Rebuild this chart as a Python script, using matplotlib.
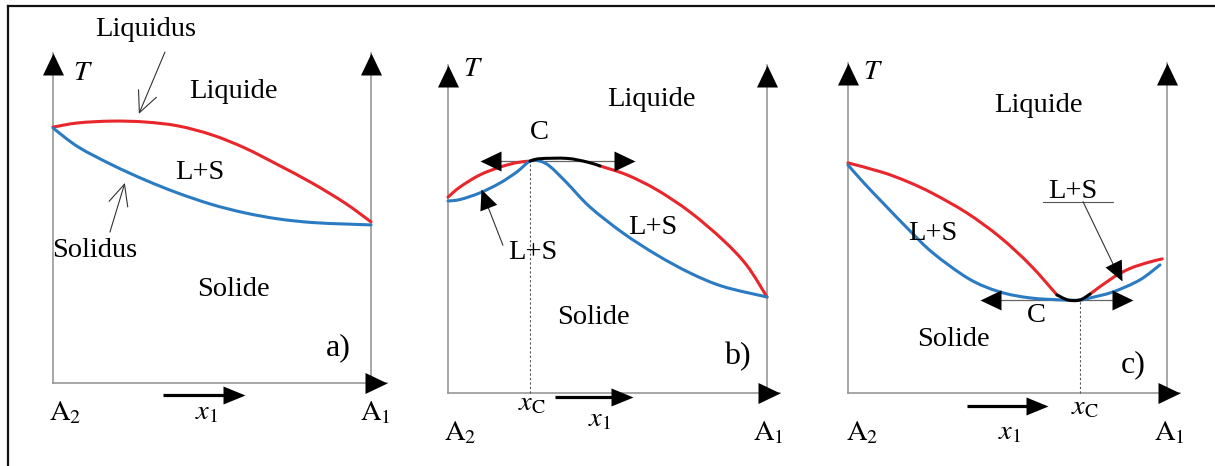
import math
import matplotlib
matplotlib.use("Agg")
import matplotlib.pyplot as plt
from matplotlib.lines import Line2D
from matplotlib.markers import MarkerStyle
from matplotlib.transforms import Affine2D
from matplotlib.path import Path
from matplotlib.patches import PathPatch

plt.rcParams['font.family'] = ['Liberation Serif', 'DejaVu Serif']
plt.rcParams['mathtext.fontset'] = 'stix'

## Curves: x = composition (A2 -> A1), T = temperature (arb.)
# panel a) : simple lens
a_liq_x = [0, 0.079, 0.186, 0.289, 0.393, 0.500, 0.604, 0.708, 0.814, 0.918, 1.0]
a_liq_T = [0.853, 0.867, 0.873, 0.870, 0.857, 0.827, 0.783, 0.727, 0.667, 0.600, 0.537]
a_sol_x = [0, 0.079, 0.186, 0.289, 0.393, 0.500, 0.604, 0.708, 0.814, 0.918, 1.0]
a_sol_T = [0.850, 0.787, 0.727, 0.677, 0.633, 0.595, 0.567, 0.547, 0.535, 0.530, 0.527]

# panel b) : congruent maximum at C
b_liq1_x = [0, 0.038, 0.100, 0.163, 0.216, 0.257]
b_liq1_T = [0.653, 0.687, 0.727, 0.753, 0.768, 0.773]
b_top_x = [0.257, 0.288, 0.373, 0.436, 0.476]
b_top_T = [0.773, 0.781, 0.782, 0.770, 0.757]
b_liq2_x = [0.476, 0.561, 0.655, 0.759, 0.862, 0.937, 1.0]
b_liq2_T = [0.757, 0.727, 0.677, 0.603, 0.510, 0.425, 0.320]
b_sol_x = [0, 0.038, 0.100, 0.163, 0.216, 0.257, 0.288, 0.320, 0.373, 0.445, 0.549, 0.655, 0.759, 0.862, 1.0]
b_sol_T = [0.640, 0.645, 0.667, 0.700, 0.737, 0.773, 0.773, 0.755, 0.700, 0.620, 0.533, 0.460, 0.400, 0.355, 0.320]

# panel c) : congruent minimum at C
c_liq1_x = [0, 0.110, 0.19, 0.266, 0.373, 0.476, 0.571, 0.655]
c_liq1_T = [0.767, 0.735, 0.703, 0.665, 0.600, 0.520, 0.427, 0.327]
c_bot_x = [0.655, 0.69, 0.727, 0.759]
c_bot_T = [0.327, 0.310, 0.310, 0.330]
c_liq2_x = [0.759, 0.831, 0.884, 0.94, 0.985]
c_liq2_T = [0.330, 0.385, 0.415, 0.435, 0.447]
c_sol_x = [0, 0.05, 0.110, 0.19, 0.266, 0.38, 0.476, 0.571, 0.674, 0.727, 0.759, 0.831, 0.915, 0.978]
c_sol_T = [0.760, 0.700, 0.633, 0.545, 0.467, 0.380, 0.337, 0.317, 0.310, 0.310, 0.317, 0.337, 0.377, 0.427]

xC_b, TC_b = 0.257, 0.775
xC_c, TC_c = 0.727, 0.310

RED = '#e8262b'
BLUE = '#2b7bc3'
GREY = '#8f8f8f'
FS = 20.5

W, H = 1215, 466
fig = plt.figure(figsize=(W / 100, H / 100), dpi=100)


def panel(x0, x1, yb):
    # full-figure axes: composition 0..1 spans x0..x1 px, T=1 is 300 px above baseline yb
    ax = fig.add_axes([0, 0, 1, 1])
    w = x1 - x0
    ax.set_xlim(-x0 / w, (W - x0) / w)
    ax.set_ylim((yb - H) / 300, yb / 300)
    ax.axis('off')
    ax.patch.set_alpha(0)
    return ax


def curve(ax, xs, ys, color):
    # smooth bezier path passing through the read points (Catmull-Rom handles)
    pts = list(zip(xs, ys))
    verts = [pts[0]]
    codes = [Path.MOVETO]
    n = len(pts)
    for i in range(n - 1):
        p0 = pts[max(i - 1, 0)]
        p1 = pts[i]
        p2 = pts[i + 1]
        p3 = pts[min(i + 2, n - 1)]
        c1 = (p1[0] + (p2[0] - p0[0]) / 6, p1[1] + (p2[1] - p0[1]) / 6)
        c2 = (p2[0] - (p3[0] - p1[0]) / 6, p2[1] - (p3[1] - p1[1]) / 6)
        verts += [c1, c2, p2]
        codes += [Path.CURVE4] * 3
    ax.add_patch(PathPatch(Path(verts, codes), fill=False, edgecolor=color,
                           lw=2.2, capstyle='round', zorder=3))


def head(ax, tip, frm, length=22, width=18, color='black'):
    p1 = ax.transData.transform(frm)
    p2 = ax.transData.transform(tip)
    ang = math.degrees(math.atan2(p2[1] - p1[1], p2[0] - p1[0]))
    hw = width / 2 / length
    m = MarkerStyle([(0, 0), (-hw, -1), (hw, -1), (0, 0)],
                    transform=Affine2D().rotate_deg(ang - 90))
    ax.plot([tip[0]], [tip[1]], marker=m, ms=2 * length * 0.72,
            color=color, mew=0, zorder=6)


def frame_axes(ax, top, right_tip, T_label):
    ax.plot([0, 0], [0, top], color=GREY, lw=1.1)
    ax.plot([1, 1], [0, top], color=GREY, lw=1.1)
    ax.plot([0, right_tip], [0, 0], color=GREY, lw=1.1)
    head(ax, (0, top), (0, 0), width=21)
    head(ax, (1, top), (1, 0), width=21)
    head(ax, (right_tip, 0), (0, 0), width=21)
    ax.text(T_label[0], T_label[1], '$T$', fontsize=FS, ha='center', va='center')


def x1_arrow(ax, xa, xb, y):
    ax.plot([xa, xb - 0.05], [y, y], color='black', lw=2.3, solid_capstyle='butt')
    head(ax, (xb, y), (xa, y))


def txt(ax, x, y, s, size=FS):
    ax.text(x, y, s, fontsize=size, ha='center', va='center')


OPEN = dict(arrowstyle='->,head_length=0.75,head_width=0.35', lw=0.8,
            color='#333', mutation_scale=20, shrinkA=0, shrinkB=0)

# ---------------- panel a ----------------
ax = panel(53, 371, 383)
frame_axes(ax, 1.10, 1.05, (0.095, 1.032))
curve(ax, a_liq_x, a_liq_T, RED)
curve(ax, a_sol_x, a_sol_T, BLUE)
txt(ax, 0.29, 1.177, 'Liquidus')
ax.annotate('', xy=(0.270, 0.897), xytext=(0.352, 1.103), arrowprops=OPEN)
txt(ax, 0.566, 0.970, 'Liquide')
txt(ax, 0.462, 0.703, 'L+S')
txt(ax, 0.132, 0.443, 'Solidus')
ax.annotate('', xy=(0.226, 0.667), xytext=(0.179, 0.503), arrowprops=OPEN)
txt(ax, 0.566, 0.310, 'Solide')
txt(ax, 0.896, 0.117, 'a)', size=23)
txt(ax, 0.038, -0.10, r'$\mathrm{A}_2$')
txt(ax, 0.484, -0.10, r'$x_1$')
txt(ax, 1.013, -0.10, r'$\mathrm{A}_1$')
x1_arrow(ax, 0.346, 0.604, -0.04)

# ---------------- panel b ----------------
ax = panel(448, 767, 393)
frame_axes(ax, 1.093, 1.041, (0.078, 1.077))
curve(ax, b_liq1_x, b_liq1_T, RED)
curve(ax, b_liq2_x, b_liq2_T, RED)
curve(ax, b_sol_x, b_sol_T, BLUE)
curve(ax, b_top_x, b_top_T, 'black')
ax.plot([xC_b, xC_b], [0, TC_b], color='#555', lw=0.8, ls=(0, (2, 2)))
ax.plot([0.13, 0.56], [TC_b, TC_b], color='#666', lw=0.9)
head(ax, (0.100, TC_b), (0.3, TC_b), length=21, width=20)
head(ax, (0.586, TC_b), (0.3, TC_b), length=21, width=20)
txt(ax, 0.288, 0.867, 'C')
txt(ax, 0.639, 0.977, 'Liquide')
txt(ax, 0.643, 0.553, 'L+S')
txt(ax, 0.266, 0.467, 'L+S')
ax.plot([0.172, 0.12], [0.493, 0.635], color='#333', lw=0.8)
head(ax, (0.103, 0.680), (0.172, 0.493), length=20, width=18)
txt(ax, 0.455, 0.253, 'Solide')
txt(ax, 0.906, 0.120, 'b)', size=23)
txt(ax, 0.038, -0.133, r'$\mathrm{A}_2$')
txt(ax, 0.476, -0.09, r'$x_1$')
txt(ax, 1.003, -0.133, r'$\mathrm{A}_1$')
txt(ax, 0.263, -0.037, r'$x_\mathrm{C}$')
x1_arrow(ax, 0.335, 0.580, -0.013)

# ---------------- panel c ----------------
ax = panel(848, 1167, 393)
frame_axes(ax, 1.10, 1.041, (0.078, 1.067))
curve(ax, c_liq1_x, c_liq1_T, RED)
curve(ax, c_liq2_x, c_liq2_T, RED)
curve(ax, c_sol_x, c_sol_T, BLUE)
curve(ax, c_bot_x, c_bot_T, 'black')
ax.plot([xC_c, xC_c], [0, TC_c], color='#555', lw=0.8, ls=(0, (2, 2)))
ax.plot([0.44, 0.86], [TC_c, TC_c], color='#666', lw=0.9)
head(ax, (0.414, TC_c), (0.7, TC_c), length=21, width=20)
head(ax, (0.893, TC_c), (0.7, TC_c), length=21, width=20)
txt(ax, 0.592, 0.260, 'C')
txt(ax, 0.596, 0.960, 'Liquide')
txt(ax, 0.266, 0.533, 'L+S')
txt(ax, 0.705, 0.672, 'L+S')
ax.plot([0.611, 0.831], [0.637, 0.637], color='#555', lw=0.8)
ax.plot([0.737, 0.84], [0.637, 0.41], color='#333', lw=0.8)
head(ax, (0.859, 0.373), (0.737, 0.637), length=20, width=18)
txt(ax, 0.329, 0.177, 'Solide')
txt(ax, 0.893, 0.093, 'c)', size=23)
txt(ax, 0.044, -0.133, r'$\mathrm{A}_2$')
txt(ax, 0.508, -0.133, r'$x_1$')
txt(ax, 1.009, -0.133, r'$\mathrm{A}_1$')
txt(ax, 0.743, -0.05, r'$x_\mathrm{C}$')
x1_arrow(ax, 0.373, 0.627, -0.043)

# outer frame (top and left edges only are visible)
fig.add_artist(Line2D([8 / W, 1], [1 - 6 / H, 1 - 6 / H], transform=fig.transFigure,
                      color='#111', lw=1.6))
fig.add_artist(Line2D([8 / W, 8 / W], [0, 1 - 6 / H], transform=fig.transFigure,
                      color='#111', lw=1.6))

fig.savefig('out.png', dpi=100)
